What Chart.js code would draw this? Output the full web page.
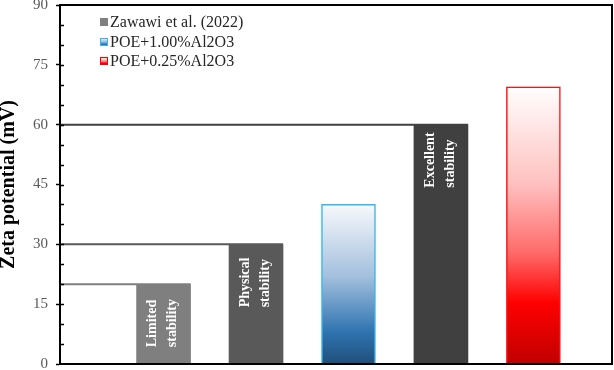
<!DOCTYPE html>
<html>
<head>
<meta charset="utf-8">
<script src="https://cdn.jsdelivr.net/npm/chart.js@4/dist/chart.umd.min.js"></script>
<style>
html,body{margin:0;padding:0;background:#fff;}
#wrap{width:614px;height:370px;position:relative;}
</style>
</head>
<body>
<div id="wrap"><canvas id="chart"></canvas></div>
<script>
// ── data ──
const seriesLabels=['Zawawi et al. (2022)','POE+1.00%Al2O3','POE+0.25%Al2O3'];
const zawawiPos=[1,2,4];
const zawawiVals=[20,30,60];
const zawawiNotes=[['Limited','stability'],['Physical','stability'],['Excellent','stability']];
const poe100Pos=[3];
const poe100Vals=[40];
const poe025Pos=[5];
const poe025Vals=[69.5];
const yMin=0,yMax=90,yMajor=15,yMinor=5;
const axisTitle='Zeta potential (mV)';

// ── styles ──
const FONT='"Liberation Serif","Times New Roman",serif';
const zawawiColors=['#7f7f7f','#595959','#404040'];
const blueStops=[[0,'#f7f9fc'],[0.45,'#a3c0de'],[0.8,'#2f73b0'],[1,'#214f7a']];
const redStops=[[0,'#ffffff'],[0.35,'#ffc0c0'],[0.6,'#ff6a6a'],[0.78,'#ff0000'],[1,'#c00000']];

function vGrad(ctx,top,bottom,stops){
  const g=ctx.createLinearGradient(0,top,0,bottom);
  stops.forEach(s=>g.addColorStop(s[0],s[1]));
  return g;
}
function barGrad(stops){
  return c=>{
    const ch=c.chart,y=ch.scales.y;
    if(!ch.chartArea)return stops[stops.length-1][1];
    const v=c.raw&&c.raw.y!=null?c.raw.y:0;
    return vGrad(ch.ctx,y.getPixelForValue(v),y.getPixelForValue(0),stops);
  };
}
const pts=(xs,ys)=>xs.map((x,i)=>({x:x,y:ys[i]}));

// threshold boxes behind the Zawawi bars
const stepLines={
  id:'stepLines',
  beforeDatasetsDraw(chart){
    const {ctx,chartArea}=chart;
    const meta=chart.getDatasetMeta(0);
    ctx.save();
    meta.data.forEach((el,i)=>{
      ctx.strokeStyle=zawawiColors[i];
      ctx.lineWidth=2;
      ctx.beginPath();
      ctx.moveTo(chartArea.left,el.y);
      ctx.lineTo(el.x+el.width/2,el.y);
      ctx.stroke();
    });
    ctx.restore();
  }
};

// rotated notes, frame, minor ticks, legend, title
const extras={
  id:'extras',
  afterDatasetsDraw(chart){
    const {ctx,chartArea}=chart;
    const y=chart.scales.y;
    ctx.save();
    // notes
    const meta=chart.getDatasetMeta(0);
    ctx.font='bold 14px '+FONT;
    ctx.fillStyle='#ffffff';
    ctx.textBaseline='middle';
    ctx.textAlign='left';
    meta.data.forEach((el,i)=>{
      ctx.save();
      ctx.translate(el.x,el.y);
      ctx.rotate(-Math.PI/2);
      zawawiNotes[i].forEach((t,k)=>ctx.fillText(t,-63,k===0?-11:9));
      ctx.restore();
    });
    // frame
    ctx.strokeStyle='#000';
    ctx.lineWidth=2;
    ctx.strokeRect(chartArea.left,chartArea.top,chartArea.right-chartArea.left,chartArea.bottom-chartArea.top);
    // inner ticks
    ctx.lineWidth=1.5;
    for(let v=yMin+yMinor;v<yMax;v+=yMinor){
      const py=Math.round(y.getPixelForValue(v))+0.5;
      ctx.beginPath();
      ctx.moveTo(chartArea.left,py);
      ctx.lineTo(chartArea.left+4,py);
      ctx.stroke();
    }
    // legend
    const lx=chartArea.left+40,rows=[22,42,61];
    ctx.font='16px '+FONT;
    ctx.textAlign='left';
    ctx.textBaseline='middle';
    seriesLabels.forEach((lab,i)=>{
      const ry=rows[i];
      ctx.fillStyle=i===0?'#808080':vGrad(ctx,ry-4,ry+4,i===1?blueStops:redStops);
      ctx.fillRect(lx,ry-4,8,8);
      if(i>0){ctx.strokeStyle=i===1?'#35b6ee':'#ff0000';ctx.lineWidth=1;ctx.strokeRect(lx+0.5,ry-3.5,7,7);}
      ctx.fillStyle='#262626';
      ctx.fillText(lab,lx+10,ry+1);
    });
    // axis title
    ctx.save();
    ctx.translate(9,(chartArea.top+chartArea.bottom)/2);
    ctx.rotate(-Math.PI/2);
    ctx.font='bold 20px '+FONT;
    ctx.fillStyle='#000';
    ctx.textAlign='center';
    ctx.textBaseline='middle';
    ctx.fillText(axisTitle,0,0);
    ctx.restore();
    ctx.restore();
  }
};

new Chart(document.getElementById('chart'),{
  type:'bar',
  data:{datasets:[
    {label:seriesLabels[0],data:pts(zawawiPos,zawawiVals),backgroundColor:zawawiColors,borderWidth:0},
    {label:seriesLabels[1],data:pts(poe100Pos,poe100Vals),backgroundColor:barGrad(blueStops),borderColor:'#35b6ee',borderWidth:1.5},
    {label:seriesLabels[2],data:pts(poe025Pos,poe025Vals),backgroundColor:barGrad(redStops),borderColor:'#ff1010',borderWidth:1.5},
  ]},
  options:{
    responsive:true,maintainAspectRatio:false,animation:false,
    layout:{padding:{top:5,right:2,left:0,bottom:0}},
    datasets:{bar:{grouped:false,barThickness:54}},
    plugins:{legend:{display:false},tooltip:{enabled:false}},
    scales:{
      x:{type:'linear',min:-0.12,max:5.85,offset:false,
        ticks:{display:false},
        grid:{display:false,drawTicks:false},
        border:{display:true,color:'#000',width:2},
        afterFit:s=>{s.height=6;s.paddingLeft=0;s.paddingRight=0;}},
      y:{min:yMin,max:yMax,
        ticks:{stepSize:yMinor,autoSkip:false,padding:8,color:'#595959',font:{family:FONT,size:15},
          callback:v=>v%yMajor===0?v:''},
        grid:{drawOnChartArea:false,tickLength:4,tickWidth:1.5,
          tickColor:c=>c.tick&&c.tick.value%yMajor===0?'#000':'rgba(0,0,0,0)'},
        border:{display:true,color:'#000',width:2},
        afterFit:s=>{s.width=60;s.paddingTop=0;s.paddingBottom=0;}}
    }
  },
  plugins:[stepLines,extras]
});
</script>
</body>
</html>
